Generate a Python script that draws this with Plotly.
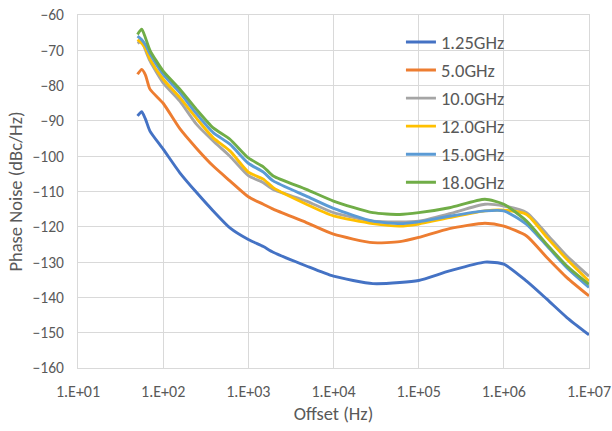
import plotly.graph_objects as go

freq = [50, 56, 62, 70, 100, 157, 247, 387, 608, 1000, 1500, 1960, 4800, 10000, 29000,
        60000, 100000, 230000, 600000, 1000000, 1850000, 3200000, 5500000, 10000000]

pn_1g25 = [-88.6, -87.4, -89.5, -92.9, -98.0, -104.7, -110.3, -115.5, -120.3, -123.6, -125.6, -127.2,
           -131.1, -134.0, -136.1, -135.8, -135.2, -132.5, -130.0, -130.6, -135.4, -140.5, -145.7, -150.6]
pn_5g0 = [-76.8, -75.4, -77.0, -81.0, -85.0, -92.2, -97.8, -102.8, -107.0, -111.5, -113.6, -115.0,
          -118.8, -122.1, -124.5, -124.2, -123.0, -120.5, -119.0, -119.8, -122.6, -128.7, -134.4, -139.6]
pn_10g = [-68.0, -67.5, -70.0, -73.0, -79.2, -84.4, -91.0, -95.7, -100.0, -105.5, -107.5, -109.4,
          -112.7, -116.0, -118.4, -118.6, -118.4, -116.3, -113.6, -114.1, -116.0, -122.1, -128.3, -134.0]
pn_12g = [-67.0, -68.0, -69.5, -72.5, -78.2, -83.4, -89.3, -94.8, -98.5, -104.5, -106.5, -108.9,
          -113.6, -116.9, -119.1, -119.8, -119.2, -117.4, -115.5, -115.3, -116.5, -123.0, -129.2, -135.4]
pn_15g = [-66.0, -67.0, -68.5, -71.0, -76.8, -82.0, -88.0, -93.3, -96.6, -102.0, -104.5, -107.0,
          -111.3, -114.8, -118.4, -119.1, -118.6, -117.0, -115.5, -115.5, -119.3, -125.4, -131.6, -137.2]
pn_18g = [-65.5, -64.0, -66.5, -70.0, -75.9, -81.0, -86.8, -92.0, -95.2, -100.5, -103.0, -105.6,
          -109.4, -112.7, -116.0, -116.5, -116.0, -114.6, -112.2, -113.6, -118.4, -125.0, -131.1, -136.3]

series_names = ["1.25GHz", "5.0GHz", "10.0GHz", "12.0GHz", "15.0GHz", "18.0GHz"]
series_values = [pn_1g25, pn_5g0, pn_10g, pn_12g, pn_15g, pn_18g]
colors = ["#4472C4", "#ED7D31", "#A5A5A5", "#FFC000", "#5B9BD5", "#70AD47"]

x_tick_vals = [1e1, 1e2, 1e3, 1e4, 1e5, 1e6, 1e7]
x_tick_text = ["1.E+01", "1.E+02", "1.E+03", "1.E+04", "1.E+05", "1.E+06", "1.E+07"]

fig = go.Figure()
for name, vals, col in zip(series_names, series_values, colors):
    fig.add_trace(go.Scatter(x=freq, y=vals, mode="lines", name=name, legendgroup=name,
                             line=dict(color=col, width=2.9, shape="spline", smoothing=0.6)))

font_family = "Carlito, Lato, 'Liberation Sans', sans-serif"
grid = "#D9D9D9"
txt = "#595959"
fig.update_layout(
    width=612, height=431,
    margin=dict(l=78, r=23, t=15, b=63),
    paper_bgcolor="white", plot_bgcolor="white",
    font=dict(family=font_family, color=txt, size=15),
    showlegend=True,
    legend=dict(x=0.632, y=0.976, xanchor="left", yanchor="top",
                font=dict(size=18.5, color=txt), bgcolor="rgba(0,0,0,0)",
                itemwidth=30, tracegroupgap=1),
)
fig.update_xaxes(type="log", range=[1, 7], tickvals=x_tick_vals, ticktext=x_tick_text,
                 automargin=False,
                 showgrid=True, gridcolor=grid, gridwidth=1, zeroline=False,
                 showline=True, linecolor=grid, linewidth=1, mirror=True,
                 ticks="", ticklabelstandoff=9, tickfont=dict(size=16, color=txt),
                 title=dict(text="Offset (Hz)", font=dict(size=18.5, color=txt), standoff=6))
fig.update_yaxes(range=[-160, -60], dtick=10, tick0=-160,
                 automargin=False,
                 showgrid=True, gridcolor=grid, gridwidth=1, zeroline=False,
                 showline=True, linecolor=grid, linewidth=1, mirror=True,
                 ticks="", ticklabelstandoff=10, tickfont=dict(size=15.5, color=txt),
                 title=dict(text="Phase Noise (dBc/Hz)", font=dict(size=18.5, color=txt), standoff=5))

fig.write_html("out.html", config={"displayModeBar": False},
               post_script="document.body.style.margin='0';")
